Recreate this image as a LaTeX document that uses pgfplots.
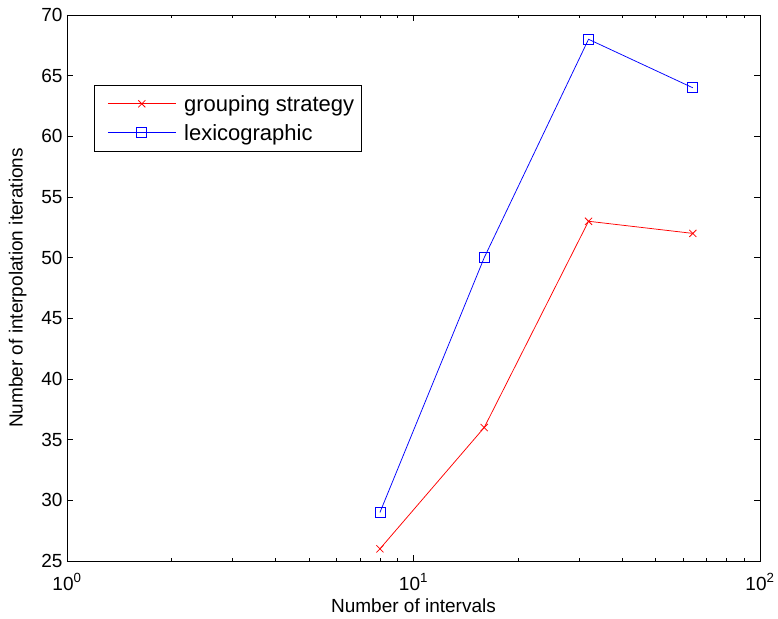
\documentclass[border=0pt]{standalone}
\usepackage{fontspec}
\setmainfont{Liberation Sans}
\usepackage{pgfplots}
\pgfplotsset{compat=1.18}
\begin{document}
\begin{tikzpicture}
\begin{axis}[
    scale only axis,
    width=693bp, height=546bp,
    xmode=log,
    xmin=1, xmax=100,
    ymin=25, ymax=70,
    ytick={25,30,...,70},
    xtick={1,10,100},
    xticklabels={10\textsuperscript{0},10\textsuperscript{1},10\textsuperscript{2}},
    /pgf/number format/assume math mode=true,
    tick align=inside,
    major tick length=6bp,
    minor tick length=3.5bp,
    tick style={black, line width=0.6bp},
    axis line style={line width=0.8bp},
    font=\fontsize{19bp}{22bp}\selectfont,
    xticklabel style={yshift=-9bp},
    yticklabel style={xshift=-1bp},
    xlabel={Number of intervals},
    ylabel={Number of interpolation iterations},
    xlabel style={yshift=-1bp},
    ylabel style={yshift=8bp},
    legend style={at={(0.039,0.872)}, anchor=north west, draw=black,
        line width=0.8bp, font=\fontsize{22bp}{26bp}\selectfont,
        nodes={minimum height=29bp, inner ysep=0bp},
        row sep=0bp, inner xsep=5bp, inner ysep=4bp,
        /tikz/every odd column/.append style={column sep=6bp}},
    legend cell align=left,
    legend image code/.code={
        \path (0bp,0bp);
        \draw[mark repeat=2,mark phase=2,#1] plot coordinates {(8bp,0bp) (42bp,0bp) (76bp,0bp)};
    },
]
\addplot[red, line width=0.75bp, mark=x, mark size=5bp] coordinates {
    (8,26) (16,36) (32,53) (64,52)
};
\addlegendentry{grouping strategy}
\addplot[blue, line width=0.75bp, mark=square, mark size=5bp] coordinates {
    (8,29) (16,50) (32,68) (64,64)
};
\addlegendentry{lexicographic}
\end{axis}
\pgfresetboundingbox
\path ([shift={(-67bp,-58bp)}]current axis.south west) rectangle ([shift={(18bp,15bp)}]current axis.north east);
\end{tikzpicture}
\end{document}
